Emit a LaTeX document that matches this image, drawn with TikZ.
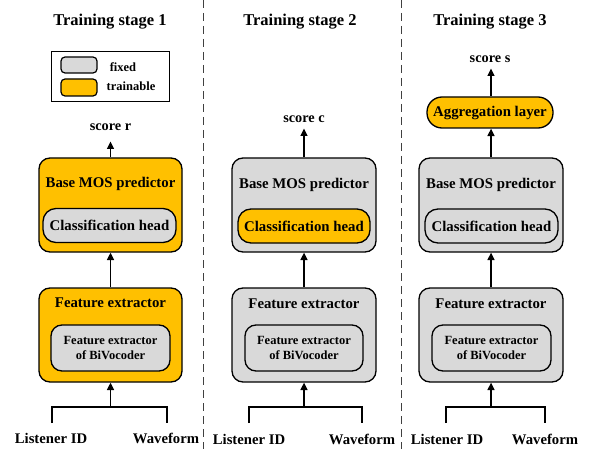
\documentclass[tikz,border=0pt]{standalone}
\usepackage{fontspec}
\setmainfont{Liberation Serif}
\usetikzlibrary{arrows.meta}
\definecolor{trainc}{HTML}{FFC000}
\definecolor{fixc}{HTML}{D9D9D9}
\tikzset{
  outerbox/.style={draw, line width=1.3pt, rounded corners=11pt, minimum width=143pt, minimum height=94pt, inner sep=0pt},
  headbox/.style={draw, line width=1.3pt, rounded corners=13pt, minimum width=133pt, minimum height=34pt, inner sep=0pt, font=\fontsize{14.8}{17}\selectfont\bfseries},
  bivbox/.style={draw, line width=1.3pt, rounded corners=11pt, minimum width=119pt, minimum height=46pt, inner sep=0pt, align=center, font=\fontsize{12.5}{15}\selectfont\bfseries},
  boxtitle/.style={inner sep=0pt, font=\fontsize{14.8}{17}\selectfont\bfseries},
  stagetitle/.style={inner sep=0pt, font=\fontsize{16.5}{19}\selectfont\bfseries},
  scoretext/.style={inner sep=0pt, anchor=base, font=\fontsize{14.3}{17}\selectfont\bfseries},
  inlabel/.style={inner sep=0pt, anchor=base, font=\fontsize{14.7}{17}\selectfont\bfseries},
  legtext/.style={inner sep=0pt, font=\fontsize{12.5}{15}\selectfont\bfseries},
  arr/.style={line width=1.5pt, -{Triangle[length=7.5pt,width=7pt]}},
  ln/.style={line width=1.5pt},
  sep/.style={line width=0.9pt, draw=black!75, dash pattern=on 8pt off 5pt},
}
\begin{document}
\begin{tikzpicture}[x=1pt,y=-1pt]
\useasboundingbox (0,0) rectangle (596,449);

% separators
\coordinate (s1a) at (203,0); \coordinate (s1b) at (203,449);
\coordinate (s2a) at (401,0); \coordinate (s2b) at (401,449);
\draw[sep] (s1a) -- (s1b);
\draw[sep] (s2a) -- (s2b);

% ---------- stage 1 ----------
\node[stagetitle] (t1) at (110,22) {Training stage 1};
\node[draw, line width=1pt, minimum width=118pt, minimum height=50pt, inner sep=0pt] (leg) at (110,77) {};
\node[draw, line width=1.2pt, fill=fixc, rounded corners=4pt, minimum width=36pt, minimum height=16pt, inner sep=0pt] (legf) at (79,65) {};
\node[draw, line width=1.2pt, fill=trainc, rounded corners=4pt, minimum width=36pt, minimum height=17pt, inner sep=0pt] (legt) at (79,87.5) {};
\node[legtext] (legft) at (123,67) {fixed};
\node[legtext] (legtt) at (131,86) {trainable};

\node[scoretext] (sr) at (110.5,130.5) {score r};
\coordinate (sr1) at (110.5,141.5);
\node[outerbox, fill=trainc] (bm1) at (110.5,205) {};
\node[boxtitle] (bm1t) at (110.5,184) {Base MOS predictor};
\node[headbox, fill=fixc] (ch1) at (109.5,225.5) {Classification head};
\node[outerbox, fill=trainc] (fe1) at (110.5,335) {};
\node[boxtitle] (fe1t) at (110.5,303) {Feature extractor};
\node[bivbox, fill=fixc] (bv1) at (110.5,348) {Feature extractor\\of BiVocoder};
\node[inlabel] (li1) at (51,443) {Listener ID};
\node[inlabel] (wf1) at (166,443) {Waveform};
\coordinate (l1) at (52,423); \coordinate (w1) at (167,423); \coordinate (m1) at (110.5,407);
\draw[arr] (bm1.north) -- (sr1);
\draw[arr] (fe1.north) -- (bm1.south);
\draw[ln] (l1) |- (m1) -| (w1);
\draw[arr] (m1) -- (fe1.south);

% ---------- stage 2 ----------
\node[stagetitle] (t2) at (300,22) {Training stage 2};
\node[scoretext] (sc) at (304,122.5) {score c};
\coordinate (sc1) at (304,128.5);
\node[outerbox, fill=fixc, minimum width=144pt] (bm2) at (304,205) {};
\node[boxtitle] (bm2t) at (304,185) {Base MOS predictor};
\node[headbox, fill=trainc, minimum width=132pt] (ch2) at (304,226) {Classification head};
\node[outerbox, fill=fixc, minimum width=144pt] (fe2) at (304,335) {};
\node[boxtitle] (fe2t) at (304,304) {Feature extractor};
\node[bivbox, fill=fixc, minimum width=118pt] (bv2) at (304,348) {Feature extractor\\of BiVocoder};
\node[inlabel] (li2) at (249,444) {Listener ID};
\node[inlabel] (wf2) at (362,444) {Waveform};
\coordinate (l2) at (249,423); \coordinate (w2) at (362,423); \coordinate (m2) at (304,407);
\draw[arr] (bm2.north) -- (sc1);
\draw[arr] (fe2.north) -- (bm2.south);
\draw[ln] (l2) |- (m2) -| (w2);
\draw[arr] (m2) -- (fe2.south);

% ---------- stage 3 ----------
\node[stagetitle] (t3) at (490,22) {Training stage 3};
\node[scoretext] (ss) at (490,63) {score s};
\coordinate (ss1) at (491,68.5);
\node[draw, line width=1.3pt, fill=trainc, rounded corners=15pt, minimum width=126pt, minimum height=31pt, inner sep=0pt, font=\fontsize{14.8}{17}\selectfont\bfseries] (ag) at (490,112.5) {Aggregation layer};
\node[outerbox, fill=fixc, minimum width=144pt] (bm3) at (491,205) {};
\node[boxtitle] (bm3t) at (491,185) {Base MOS predictor};
\node[headbox, fill=fixc] (ch3) at (491.5,226) {Classification head};
\node[outerbox, fill=fixc, minimum width=144pt] (fe3) at (491,335) {};
\node[boxtitle] (fe3t) at (491,304) {Feature extractor};
\node[bivbox, fill=fixc] (bv3) at (491.5,348) {Feature extractor\\of BiVocoder};
\node[inlabel] (li3) at (447,444) {Listener ID};
\node[inlabel] (wf3) at (545,444) {Waveform};
\coordinate (l3) at (446,423); \coordinate (w3) at (545,423); \coordinate (m3) at (491,407);
\draw[arr] (ag.north -| ss1) -- (ss1);
\draw[arr] (bm3.north) -- (bm3.north |- ag.south);
\draw[arr] (fe3.north) -- (bm3.south);
\draw[ln] (l3) |- (m3) -| (w3);
\draw[arr] (m3) -- (fe3.south);
\end{tikzpicture}
\end{document}
